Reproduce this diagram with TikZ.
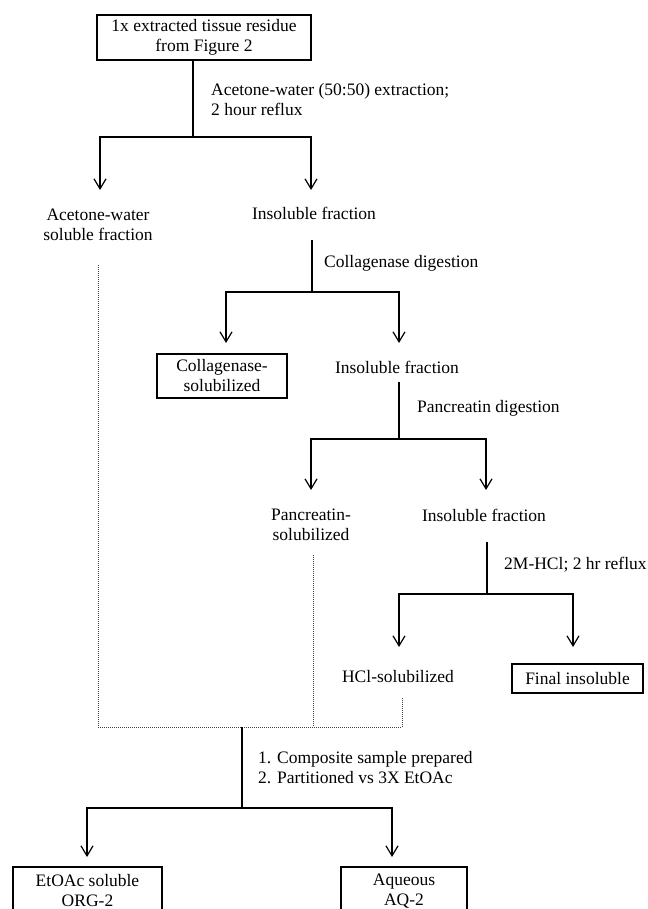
\documentclass[tikz,border=0pt]{standalone}
\usepackage{fontspec}
\setmainfont{Liberation Serif}
\usetikzlibrary{arrows.meta}
\begin{document}
\begin{tikzpicture}[x=1pt,y=-1pt,
  every node/.style={font=\fontsize{17.5}{20}\selectfont, inner sep=0pt, align=center},
  box/.style={draw, line width=1.2pt},
  lbl/.style={anchor=west, align=left},
  flow/.style={line width=1.2pt},
  arr/.style={flow, -{Straight Barb[length=10pt,width=12pt,line width=1.2pt]}},
  dots/.style={line width=1pt, dash pattern=on 1pt off 1pt, black!75}]
\clip (0,0) rectangle (647,909);
% level 1
\node[box, minimum width=214pt, minimum height=45pt] (top) at (204,37.5) {1x extracted tissue residue\\from Figure 2};
\node[lbl] (t1) at (211,100) {Acetone-water (50:50) extraction;\\2 hour reflux};
\coordinate (j1) at (193,137);
\coordinate (a1l) at (100,190);
\coordinate (a1r) at (311,190);
\draw[flow] (top.south -| j1) -- (j1);
\draw[arr] (j1) -| (a1l);
\draw[arr] (j1) -| (a1r);
\node (aw) at (98,225) {Acetone-water\\soluble fraction};
\node (ins1) at (314,213) {Insoluble fraction};
% level 2
\coordinate (s2) at (312,240);
\coordinate (j2) at (312,292);
\draw[flow] (s2) -- (j2);
\node[lbl] (t2) at (324,263) {Collagenase digestion};
\coordinate (a2l) at (226,343);
\coordinate (a2r) at (399,343);
\draw[arr] (j2) -| (a2l);
\draw[arr] (j2) -| (a2r);
\node[box, minimum width=130pt, minimum height=44pt] (coll) at (222,376) {Collagenase-\\solubilized};
\node (ins2) at (397,367) {Insoluble fraction};
% level 3
\coordinate (s3) at (399,382);
\coordinate (j3) at (399,439);
\draw[flow] (s3) -- (j3);
\node[lbl] (t3) at (417,408) {Pancreatin digestion};
\coordinate (a3l) at (311,490);
\coordinate (a3r) at (486,490);
\draw[arr] (j3) -| (a3l);
\draw[arr] (j3) -| (a3r);
\node (pan) at (311,525) {Pancreatin-\\solubilized};
\node (ins3) at (484,515) {Insoluble fraction};
% level 4
\coordinate (s4) at (487,542);
\coordinate (j4) at (487,594);
\draw[flow] (s4) -- (j4);
\node[lbl] (t4) at (504,565) {2M-HCl; 2 hr reflux};
\coordinate (a4l) at (399,647);
\coordinate (a4r) at (573,647);
\draw[arr] (j4) -| (a4l);
\draw[arr] (j4) -| (a4r);
\node (hcl) at (398,677) {HCl-solubilized};
\node[box, minimum width=131pt, minimum height=29pt] (fin) at (577.5,678.5) {Final insoluble};
% dotted collection
\coordinate (d1) at (98,265);
\coordinate (d2) at (313,555);
\coordinate (d3) at (402,698);
\coordinate (dc) at (402,727);
\coordinate (m) at (242,727);
\draw[dots] (d1) |- (dc) -- (d3);
\draw[dots] (d2) -- (d2 |- m);
% level 5
\coordinate (j5) at (242,808);
\draw[flow] (m) -- (j5);
\node[lbl] (t5) at (258,768) {1. Composite sample prepared\\2. Partitioned vs 3X EtOAc};
\coordinate (a5l) at (87,857);
\coordinate (a5r) at (392,857);
\draw[arr] (j5) -| (a5l);
\draw[arr] (j5) -| (a5r);
\node[box, minimum width=149pt, minimum height=48pt] (org) at (87.5,891) {EtOAc soluble\\ORG-2};
\node[box, minimum width=126pt, minimum height=48pt] (aq) at (404,891) {Aqueous\\AQ-2};
\end{tikzpicture}
\end{document}
